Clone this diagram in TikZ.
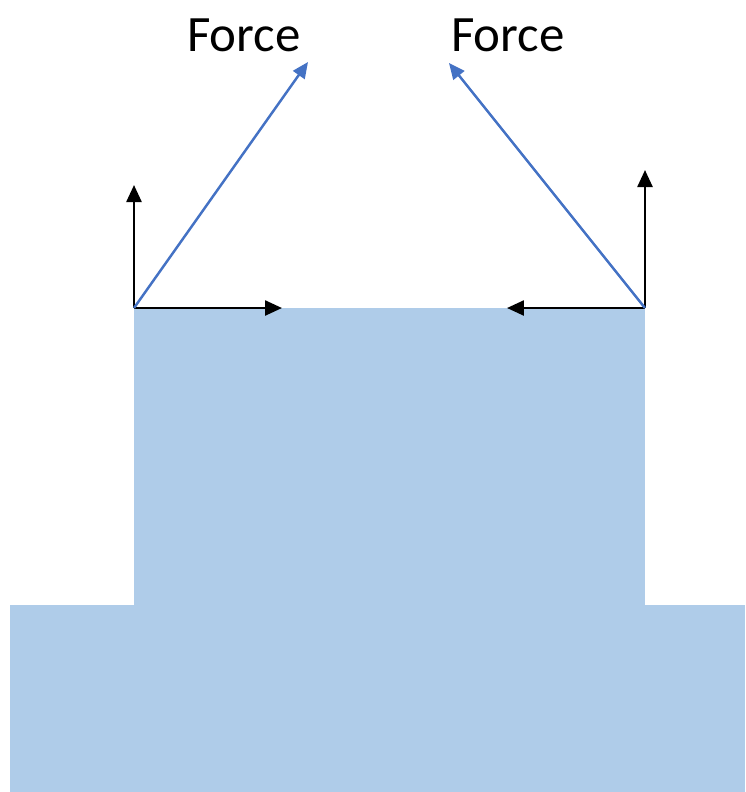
\documentclass[tikz,border=0pt]{standalone}
\usepackage{fontspec}
\setmainfont{Carlito}
\usetikzlibrary{arrows.meta}
\definecolor{bodyblue}{RGB}{175,204,233}
\definecolor{forceblue}{RGB}{68,114,196}

\begin{document}
\begin{tikzpicture}[x=0.02cm, y=-0.02cm,
    comp/.style={-{Triangle[length=0.34cm, width=0.3cm]}, line width=1.4pt, black},
    force/.style={-{Triangle[length=0.32cm, width=0.28cm]}, line width=1.4pt, forceblue},
    lbl/.style={font=\fontsize{29}{34}\selectfont, inner sep=0pt}]
  \useasboundingbox (0,0) rectangle (745,792);
  % body
  \fill[bodyblue] (134,308) rectangle (645,606);
  \fill[bodyblue] (10,605) rectangle (745,792);
  % corners
  \coordinate (cl) at (134,308);
  \coordinate (cr) at (645,308);
  \coordinate (ul) at (134,185);
  \coordinate (ur) at (645,170);
  \coordinate (hl) at (282,308);
  \coordinate (hr) at (507,308);
  \coordinate (fl) at (308,62);
  \coordinate (fr) at (449,63);
  % left corner
  \draw[comp] (cl) -- (ul);
  \draw[comp] (cl) -- (hl);
  \draw[force] (cl) -- (fl);
  % right corner
  \draw[comp] (cr) -- (ur);
  \draw[comp] (cr) -- (hr);
  \draw[force] (cr) -- (fr);
  % labels
  \node[lbl] (forcel) at (244,35) {Force};
  \node[lbl] (forcer) at (508,35) {Force};
\end{tikzpicture}
\end{document}
